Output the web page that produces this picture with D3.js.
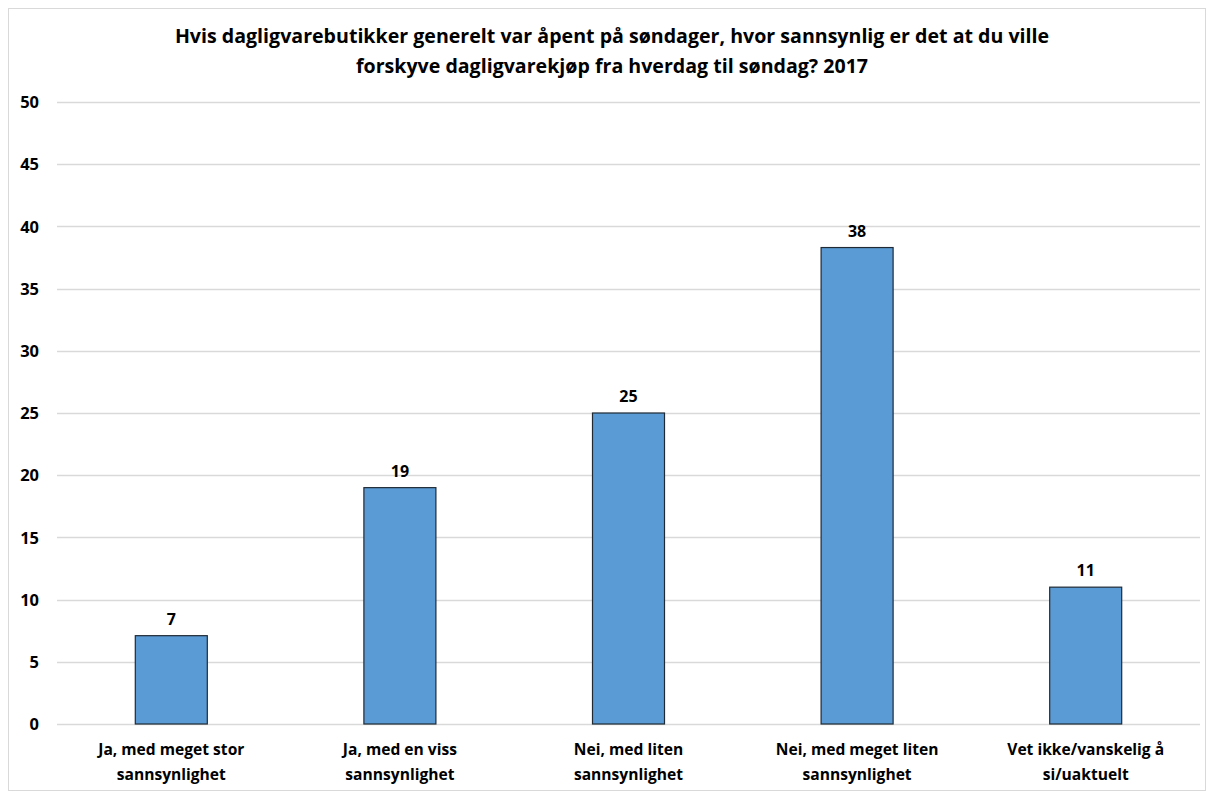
<!DOCTYPE html>
<html>
<head>
<meta charset="utf-8">
<script src="https://cdn.jsdelivr.net/npm/d3@7/dist/d3.min.js"></script>
<style>
  html, body { margin: 0; padding: 0; background: #fff; }
  svg { display: block; }
  text { font-family: "Open Sans", Arial, sans-serif; font-weight: bold; fill: #000; }
</style>
</head>
<body>
<svg id="chart" width="1214" height="791"></svg>
<script>
// Survey answers (percent), 2017
const titleLines = [
  "Hvis dagligvarebutikker generelt var åpent på søndager, hvor sannsynlig er det at du ville",
  "forskyve dagligvarekjøp fra hverdag til søndag? 2017"
];
const categories = [
  ["Ja, med meget stor", "sannsynlighet"],
  ["Ja, med en viss", "sannsynlighet"],
  ["Nei, med liten", "sannsynlighet"],
  ["Nei, med meget liten", "sannsynlighet"],
  ["Vet ikke/vanskelig å", "si/uaktuelt"]
];
const values = [7.1, 19.0, 25.0, 38.3, 11.0];
const yTicks = [0, 5, 10, 15, 20, 25, 30, 35, 40, 45, 50];

const svg = d3.select("#chart");
const W = 1214, H = 791;
const margin = { left: 57, right: 14, top: 102, bottom: 67 };

// outer frame
svg.append("rect")
  .attr("x", 8.5).attr("y", 8.5)
  .attr("width", W - 17).attr("height", H - 9)
  .attr("fill", "#fff").attr("stroke", "#d9d9d9");

const x = d3.scaleBand()
  .domain(d3.range(categories.length))
  .range([margin.left, W - margin.right])
  .paddingInner(0.685).paddingOuter(0.3425);

const y = d3.scaleLinear().domain([0, 50]).range([H - margin.bottom, margin.top]);

// gridlines
svg.append("g")
  .selectAll("line")
  .data(yTicks)
  .join("line")
  .attr("x1", margin.left).attr("x2", W - margin.right)
  .attr("y1", d => Math.round(y(d)) + 0.5).attr("y2", d => Math.round(y(d)) + 0.5)
  .attr("stroke", "#d9d9d9").attr("stroke-width", 1.5);

// y axis labels
const yAxis = d3.axisLeft(y).tickValues(yTicks).tickSize(0).tickPadding(0);
const gy = svg.append("g").attr("transform", `translate(39,0)`).call(yAxis);
gy.select(".domain").remove();
gy.selectAll("text").style("font-size", "16.5px").attr("dy", "0.35em")
  .style("font-family", "'Open Sans', Arial, sans-serif").style("font-weight", "bold");

// bars
svg.append("g")
  .selectAll("rect")
  .data(values)
  .join("rect")
  .attr("x", (d, i) => x(i))
  .attr("width", x.bandwidth())
  .attr("y", d => y(d))
  .attr("height", d => y(0) - y(d))
  .attr("fill", "#5b9bd5")
  .attr("stroke", "#1f2a35").attr("stroke-width", 1.2);

// value labels
svg.append("g")
  .selectAll("text")
  .data(values)
  .join("text")
  .attr("x", (d, i) => x(i) + x.bandwidth() / 2)
  .attr("y", d => y(d) - 11)
  .attr("text-anchor", "middle")
  .style("font-size", "16px")
  .text(d => d3.format(".0f")(d));

// category labels
const cat = svg.append("g")
  .selectAll("text")
  .data(categories)
  .join("text")
  .attr("x", (d, i) => x(i) + x.bandwidth() / 2)
  .attr("y", 755)
  .attr("text-anchor", "middle")
  .style("font-size", "15.6px");
cat.selectAll("tspan")
  .data(d => d)
  .join("tspan")
  .attr("x", function () { return this.parentNode.getAttribute("x"); })
  .attr("dy", (d, j) => j === 0 ? 0 : 25)
  .text(d => d);

// title
svg.append("g")
  .selectAll("text")
  .data(titleLines)
  .join("text")
  .attr("x", 612)
  .attr("y", (d, i) => 43 + i * 30)
  .attr("text-anchor", "middle")
  .style("font-size", "19.6px")
  .text(d => d);
</script>
</body>
</html>
